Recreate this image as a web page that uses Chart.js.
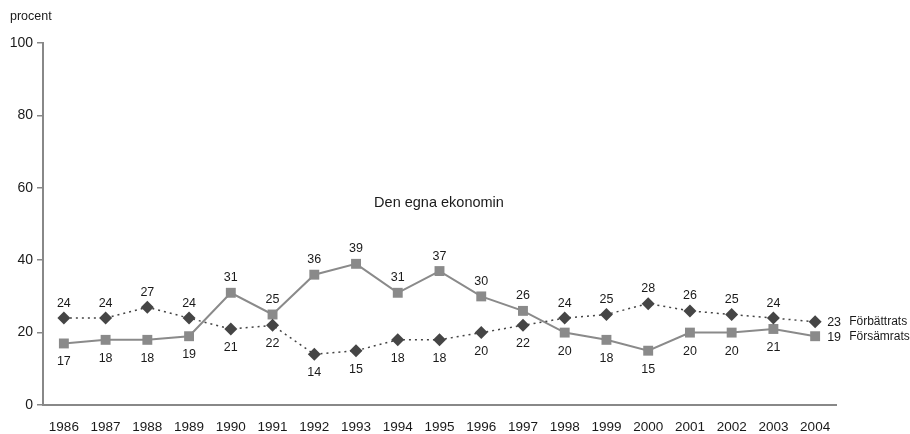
<!DOCTYPE html>
<html>
<head>
<meta charset="utf-8">
<script src="https://cdn.jsdelivr.net/npm/chart.js@4.4.1/dist/chart.umd.min.js"></script>
<style>
html,body{margin:0;padding:0;background:#fff;}
#wrap{width:910px;height:434px;position:relative;}
</style>
</head>
<body>
<div id="wrap"><canvas id="c" width="910" height="434"></canvas></div>
<script>
const years = ['1986','1987','1988','1989','1990','1991','1992','1993','1994','1995','1996','1997','1998','1999','2000','2001','2002','2003','2004'];
const forbattrats = [24,24,27,24,21,22,14,15,18,18,20,22,24,25,28,26,25,24,23];
const forsamrats  = [17,18,18,19,31,25,36,39,31,37,30,26,20,18,15,20,20,21,19];
const seriesNames = ['Förbättrats','Försämrats'];
const yTicks = [0,20,40,60,80,100];
const unitLabel = 'procent';
const panelTitle = 'Den egna ekonomin';

const FONT = '"Liberation Sans", Arial, Helvetica, sans-serif';

const labelPlugin = {
  id: 'labels',
  afterDatasetsDraw(chart) {
    const ctx = chart.ctx;
    const ds = chart.data.datasets;
    ctx.save();
    ctx.fillStyle = '#1a1a1a';
    ds.forEach((d, di) => {
      const meta = chart.getDatasetMeta(di);
      const other = ds[1 - di].data;
      const n = d.data.length;
      meta.data.forEach((pt, i) => {
        const v = d.data[i];
        ctx.font = '12.5px ' + FONT;
        if (i === n - 1) {
          ctx.textAlign = 'left';
          ctx.textBaseline = 'middle';
          ctx.fillText(String(v), pt.x + 12, pt.y + 1);
          ctx.font = '12px ' + FONT;
          ctx.fillText(seriesNames[di], pt.x + 34, pt.y);
          return;
        }
        const above = v >= other[i];
        ctx.textAlign = 'center';
        ctx.textBaseline = 'middle';
        ctx.fillText(String(v), pt.x, above ? pt.y - 15 : pt.y + 18.5);
      });
    });
    ctx.font = '12.5px ' + FONT;
    ctx.textAlign = 'left';
    ctx.textBaseline = 'middle';
    ctx.fillText(unitLabel, 10, 17);
    ctx.textAlign = 'center';
    ctx.font = '14.5px ' + FONT;
    ctx.fillText(panelTitle, 439, 203);
    ctx.restore();
  }
};

new Chart(document.getElementById('c'), {
  type: 'line',
  data: {
    labels: years,
    datasets: [
      {
        label: seriesNames[0],
        data: forbattrats,
        borderColor: '#444',
        backgroundColor: '#444',
        borderWidth: 1.5,
        borderDash: [2, 4],
        pointStyle: 'rectRot',
        pointRadius: 6.5,
        pointBorderWidth: 0,
        pointBackgroundColor: '#454545',
        tension: 0
      },
      {
        label: seriesNames[1],
        data: forsamrats,
        borderColor: '#8a8a8a',
        backgroundColor: '#8a8a8a',
        borderWidth: 2,
        pointStyle: 'rect',
        pointRadius: 7,
        pointBorderWidth: 0,
        pointBackgroundColor: '#8a8a8a',
        tension: 0
      }
    ]
  },
  options: {
    responsive: false,
    animation: false,
    layout: { padding: { left: 0, right: 74, top: 43, bottom: 0 } },
    plugins: { legend: { display: false }, tooltip: { enabled: false } },
    scales: {
      x: {
        offset: true,
        grid: { display: false, drawTicks: false },
        border: { display: true, color: '#888', width: 2 },
        ticks: { color: '#1a1a1a', font: { family: FONT, size: 13.5 }, padding: 14, maxRotation: 0, autoSkip: false },
        afterFit(s) { s.height = 29; }
      },
      y: {
        min: 0, max: 100,
        afterBuildTicks(s) { s.ticks = yTicks.map(v => ({ value: v })); },
        grid: { display: true, drawOnChartArea: false, drawTicks: true, tickLength: 6, color: '#888', lineWidth: 1.5 },
        border: { display: true, color: '#888', width: 2 },
        ticks: { color: '#1a1a1a', font: { family: FONT, size: 14 }, padding: 4 },
        afterFit(s) { s.width = 43; }
      }
    }
  },
  plugins: [labelPlugin]
});
</script>
</body>
</html>
